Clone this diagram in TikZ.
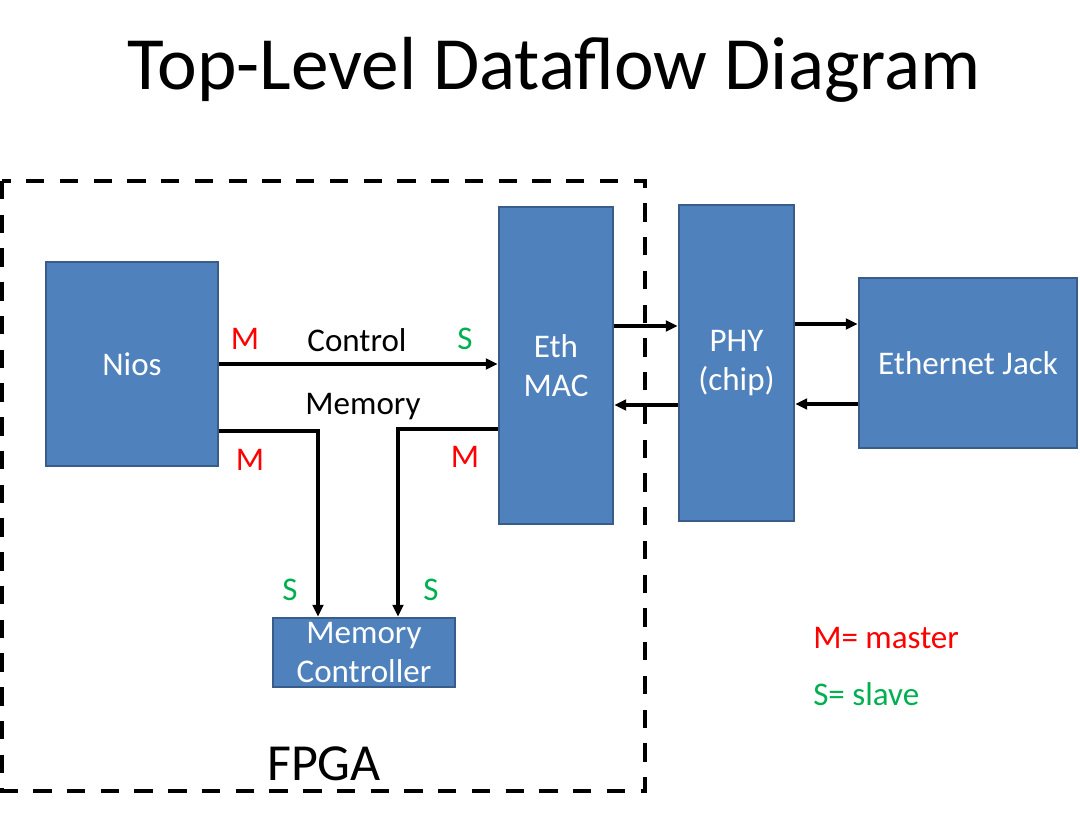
\documentclass[tikz,border=0pt]{standalone}
\usepackage{fontspec}
\setmainfont{Carlito}
\usepackage{xcolor}
\definecolor{boxblue}{HTML}{4F81BD}
\definecolor{boxedge}{HTML}{385D8A}
\definecolor{mred}{HTML}{FF0000}
\definecolor{sgreen}{HTML}{00B050}
\usepackage{tikz}
\usetikzlibrary{arrows.meta, calc}

\begin{document}
\begin{tikzpicture}[x=0.025cm, y=-0.025cm, >={Triangle[length=8.5pt, width=7.5pt]},
    blk/.style={draw=boxedge, line width=1.8pt, fill=boxblue, text=white,
      font=\fontsize{23.5}{28}\selectfont, align=center, inner sep=0pt},
    txt/.style={font=\fontsize{23.5}{28}\selectfont, inner sep=0pt},
    wire/.style={->, line width=2.5pt}]

  \useasboundingbox (0,0) rectangle (1080,827);

  % Titel
  \node[font=\fontsize{53.5}{60}\selectfont] (title) at (554,70) {Top-Level Dataflow Diagram};

  % FPGA
  \draw[line width=2.6pt, dash pattern=on 13pt off 11pt] (2,181) rectangle (645,791);
  \node[font=\fontsize{37}{40}\selectfont] (fpga) at (324,764) {FPGA};

  % Bloecke
  \node[blk, minimum width=4.3cm, minimum height=5.1cm] (nios) at (132,364) {Nios};
  \node[blk, minimum width=2.85cm, minimum height=7.925cm] (mac) at (556,365.5) {Eth\\MAC};
  \node[blk, minimum width=2.875cm, minimum height=7.9cm] (phy) at (736.5,363) {PHY\\(chip)};
  \node[blk, minimum width=5.45cm, minimum height=4.25cm] (jack) at (968,363) {Ethernet Jack};
  \node[blk, minimum width=4.55cm, minimum height=1.725cm] (mem) at (364,652.5) {Memory\\Controller};

  % Control
  \draw[wire] (nios.east) -- (nios.east -| mac.west);
  \node[txt] (ctl) at (357,340) {Control};
  \node[txt, text=mred] (cm) at (245,339) {M};
  \node[txt, text=sgreen] (cs) at (465,339) {S};

  % Memory
  \node[txt] (memlbl) at (363,407) {Memory};
  \draw[wire] ($(nios.east)+(0,67)$) -| ($(mem.north)+(-46,0)$);
  \draw[wire] ($(mac.west)+(0,63.5)$) -| ($(mem.north)+(34,0)$);
  \node[txt, text=mred] (nm) at (250,460) {M};
  \node[txt, text=mred] (mm) at (465,457) {M};
  \node[txt, text=sgreen] (ns) at (290,590) {S};
  \node[txt, text=sgreen] (ms) at (431,590) {S};

  % MAC - PHY - Jack
  \draw[wire] ($(mac.east)+(0,-39.5)$) coordinate (a1) -- (a1 -| phy.west);
  \draw[wire] ($(phy.west)+(0,42)$) coordinate (a2) -- (a2 -| mac.east);
  \draw[wire] ($(phy.east)+(0,-39)$) coordinate (a3) -- (a3 -| jack.west);
  \draw[wire] ($(jack.west)+(0,41)$) coordinate (a4) -- (a4 -| phy.east);

  % Legende
  \node[txt, text=mred, anchor=west] (lm) at (813,638) {M= master};
  \node[txt, text=sgreen, anchor=west] (ls) at (813,694) {S= slave};

\end{tikzpicture}
\end{document}
